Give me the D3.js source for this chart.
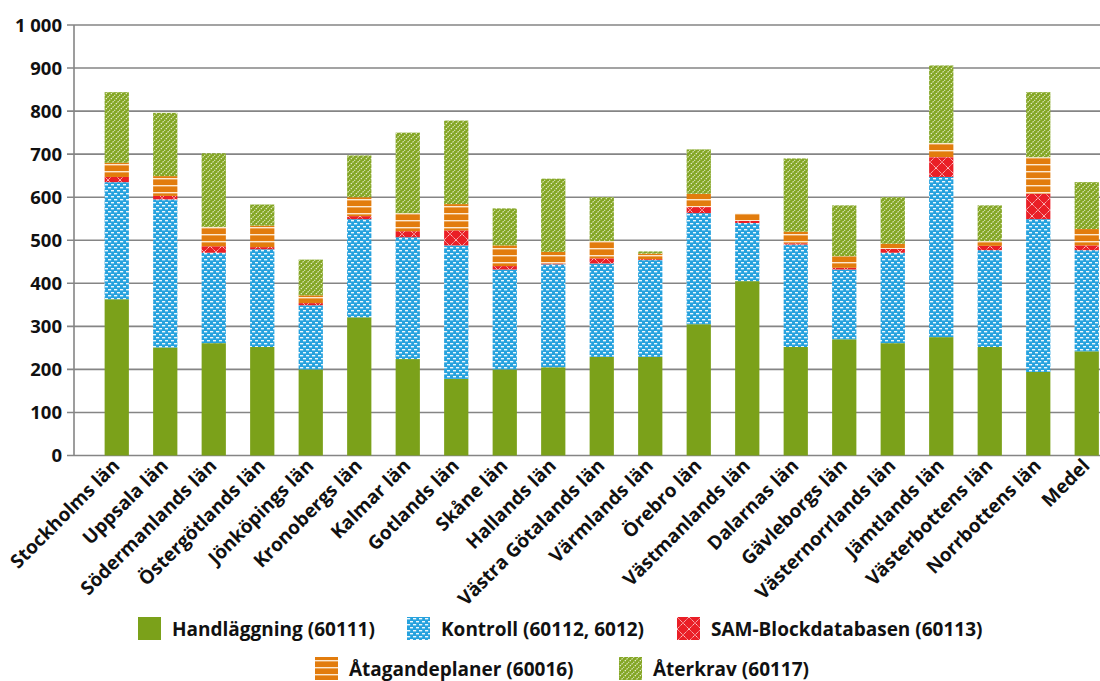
<!DOCTYPE html>
<html><head><meta charset="utf-8">
<script src="https://cdn.jsdelivr.net/npm/d3@7"></script>
<style>
html,body{margin:0;padding:0;background:#fff;}
svg{display:block;}
text{font-family:"Open Sans",sans-serif;font-weight:700;fill:#111;}
</style></head>
<body>
<svg id="chart" width="1100" height="681"></svg>
<script>
const categories = ["Stockholms län","Uppsala län","Södermanlands län","Östergötlands län","Jönköpings län","Kronobergs län","Kalmar län","Gotlands län","Skåne län","Hallands län","Västra Götalands län","Värmlands län","Örebro län","Västmanlands län","Dalarnas län","Gävleborgs län","Västernorrlands län","Jämtlands län","Västerbottens län","Norrbottens län","Medel"];
const seriesNames = ["Handläggning (60111)","Kontroll (60112, 6012)","SAM-Blockdatabasen (60113)","Åtagandeplaner (60016)","Återkrav (60117)"];
const handlaggning = [363,251,261,252,200,321,224,178,200,205,229,229,305,405,252,270,261,275,252,194,242];
const kontroll     = [272,344,210,227,149,228,283,310,232,239,217,225,258,135,238,162,210,372,225,355,235];
const samBlock     = [12,8,15,5,5,7,14,35,8,2,12,2,14,5,3,4,9,46,10,59,11];
const atagande     = [33,46,45,50,18,44,42,61,48,27,40,13,31,17,27,27,12,33,11,85,38];
const aterkrav     = [164,147,171,49,83,97,187,194,86,170,102,5,103,0,170,118,108,180,83,151,109];
const yTicks = [0,100,200,300,400,500,600,700,800,900,1000];

const seriesValues = [handlaggning,kontroll,samBlock,atagande,aterkrav];
const keys = ["h","k","s","a","r"];
const rows = categories.map((c,i)=>{const o={cat:c};keys.forEach((k,j)=>o[k]=seriesValues[j][i]);return o;});

const svg = d3.select("#chart");
const defs = svg.append("defs");

function pat(id,w,h){return defs.append("pattern").attr("id",id).attr("patternUnits","userSpaceOnUse").attr("width",w).attr("height",h);}
// Kontroll: blue with white dashes
let p = pat("pK",6,6);
p.append("rect").attr("width",6).attr("height",6).attr("fill","#26a2de");
p.append("rect").attr("x",0).attr("y",1).attr("width",3.2).attr("height",1.4).attr("fill","#ffffff").attr("opacity",0.92);
p.append("rect").attr("x",3).attr("y",4).attr("width",3.2).attr("height",1.4).attr("fill","#ffffff").attr("opacity",0.92);
// SAM: red with white diamond lattice
p = pat("pS",12,12);
p.append("rect").attr("width",12).attr("height",12).attr("fill","#ea1f27");
p.append("path").attr("d","M0,0L12,12M12,0L0,12").attr("stroke","#ffffff").attr("stroke-width",1).attr("opacity",0.8).attr("stroke-dasharray","1.3,0.7");
// Åtagande: orange with white horizontal lines
p = pat("pA",7,7);
p.append("rect").attr("width",7).attr("height",7).attr("fill","#e27c0d");
p.append("rect").attr("x",0).attr("y",3).attr("width",7).attr("height",1.4).attr("fill","#fde9d0");
// Återkrav: green with white diagonal lines
p = pat("pR",5,5);
p.append("rect").attr("width",5).attr("height",5).attr("fill","#84a624");
p.append("path").attr("d","M-1,6L6,-1M-1,1L1,-1M4,6L6,4").attr("stroke","#edf3d8").attr("stroke-width",1.1).attr("stroke-dasharray","1.5,1");

const fills = {h:"#7ba11a",k:"url(#pK)",s:"url(#pS)",a:"url(#pA)",r:"url(#pR)"};

const x = d3.scaleBand().domain(categories).range([92.5,1111]).paddingInner(0.5).paddingOuter(0.25);
const y = d3.scaleLinear().domain([0,1000]).range([455.5,25]);

const fmt = d3.formatLocale({decimal:",",thousands:" ",grouping:[3],currency:["",""]}).format(",d");

// gridlines
svg.append("g").selectAll("line").data(yTicks).join("line")
  .attr("x1",67).attr("x2",1100).attr("y1",d=>y(d)).attr("y2",d=>y(d))
  .attr("stroke","#858585").attr("stroke-width",1.6);
svg.append("line").attr("x1",74).attr("x2",74).attr("y1",y(1000)).attr("y2",y(0)).attr("stroke","#858585").attr("stroke-width",1.6);

// y labels
svg.append("g").selectAll("text").data(yTicks).join("text")
  .attr("x",62).attr("y",d=>y(d)).attr("dy","0.36em").attr("text-anchor","end")
  .attr("font-size",18.5).text(d=>fmt(d));

// bars
const stack = d3.stack().keys(keys)(rows);
svg.append("g").selectAll("g").data(stack).join("g")
  .attr("fill",d=>fills[d.key])
  .selectAll("rect").data(d=>d).join("rect")
  .attr("x",d=>x(d.data.cat)).attr("width",x.bandwidth())
  .attr("y",d=>y(d[1])).attr("height",d=>Math.max(0,y(d[0])-y(d[1])));

// x labels
svg.append("g").selectAll("text").data(categories).join("text")
  .attr("transform",d=>`translate(${x(d)+x.bandwidth()/2+4},${467}) rotate(-45)`)
  .attr("text-anchor","end").attr("font-size",19).text(d=>d);

// legend
const legendPos = [[138,617],[407,617],[677,617],[315,657],[619,657]];
const lg = svg.append("g").selectAll("g").data(keys).join("g")
  .attr("transform",(d,i)=>`translate(${legendPos[i][0]},${legendPos[i][1]})`);
lg.append("rect").attr("width",23).attr("height",23).attr("fill",d=>fills[d]);
lg.append("text").attr("x",34).attr("y",19).attr("font-size",19).text((d,i)=>seriesNames[i]);
</script>
</body></html>
